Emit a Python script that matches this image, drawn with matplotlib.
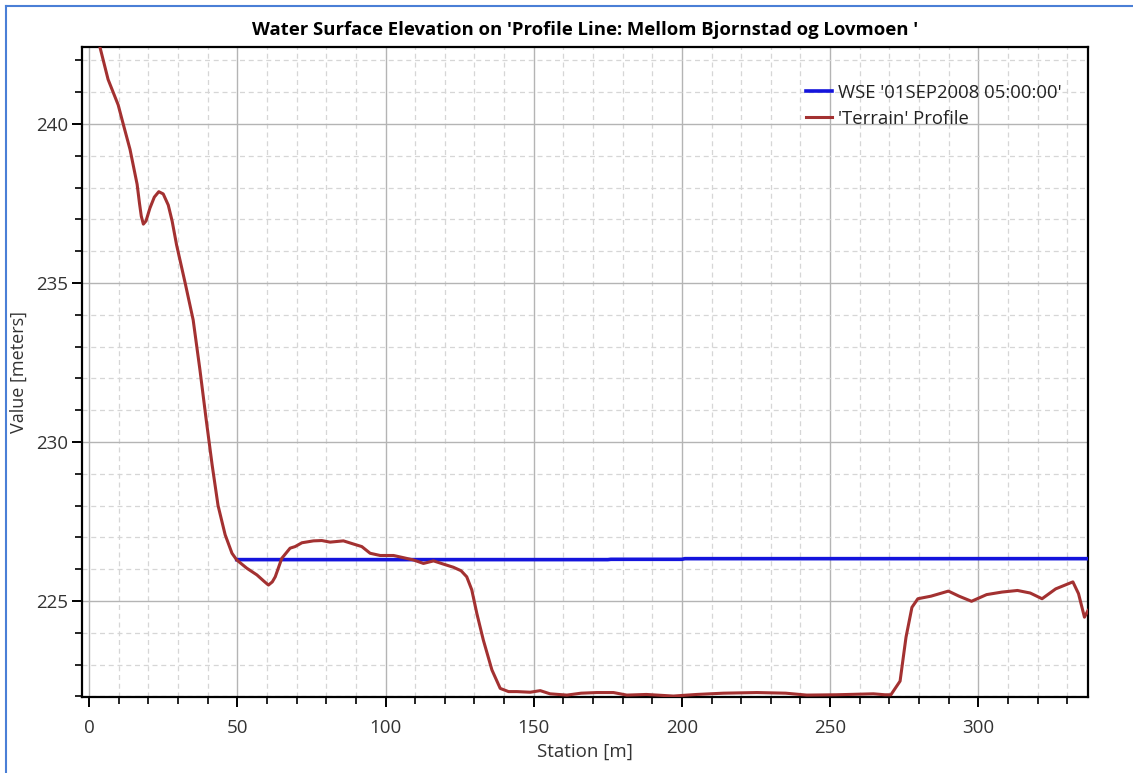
import matplotlib
matplotlib.use("Agg")
import matplotlib.pyplot as plt
from matplotlib.ticker import MultipleLocator
from matplotlib.lines import Line2D

plt.rcParams['font.family'] = ['Open Sans', 'DejaVu Sans']

# Terrain profile (station [m], elevation [m])
terrain_station = [2.5, 3.7, 6.4, 9.8, 11.5, 13.8, 16.2, 17.0, 17.6, 18.3, 19.2, 20.5,
                   22.0, 23.5, 25.0, 26.7, 28.0, 29.5,
                   32.4, 35.1, 37.4, 39.5, 41.5, 43.5, 45.9, 48.2, 49.8, 53.2, 56.6,
                   59.0, 60.5, 61.8, 62.8, 65.0, 67.8, 69.5, 71.8, 75.7, 78.5, 81.3, 85.8, 89.2,
                   92.0, 94.8, 98.2, 102.7, 106.1, 109.4, 112.8, 116.2, 119.5, 122.9,
                   125.5, 127.4, 129.1, 130.8, 133.0, 135.9, 138.7, 141.5, 144.3, 148.8,
                   152.2, 155.5, 161.2, 166.0, 171.3, 176.9, 181.4, 188.0, 197.1,
                   205.0, 214.0, 225.3, 235.0, 242.1, 252.0, 264.6, 268.5, 270.5,
                   273.6, 275.6, 277.6, 279.6, 284.0, 289.9, 293.5, 297.7, 302.8,
                   308.0, 313.2, 317.5, 321.5, 326.1, 331.9, 333.8, 335.8, 337.0]
terrain_elev = [243.0, 242.4, 241.4, 240.6, 240.0, 239.2, 238.1, 237.5, 237.1, 236.85,
                236.95, 237.35, 237.7, 237.87, 237.8, 237.45, 236.95, 236.2,
                235.0, 233.84, 232.26, 230.7, 229.28, 228.0, 227.08,
                226.5, 226.29, 226.03, 225.82, 225.62, 225.5, 225.6, 225.76, 226.34,
                226.66, 226.71, 226.83, 226.89, 226.9, 226.85, 226.89, 226.79, 226.71,
                226.5, 226.43, 226.43, 226.36, 226.29, 226.18, 226.26, 226.16, 226.06,
                225.95, 225.76, 225.35, 224.61, 223.77, 222.83, 222.25, 222.15, 222.15,
                222.13, 222.18, 222.08, 222.04, 222.1, 222.12, 222.12, 222.04, 222.06,
                222.01, 222.06, 222.1, 222.12, 222.1, 222.04, 222.05, 222.08, 222.05,
                222.05, 222.48, 223.86, 224.8, 225.07, 225.15, 225.31, 225.15, 224.99,
                225.2, 225.28, 225.33, 225.25, 225.07, 225.38, 225.6, 225.23, 224.49,
                224.7]

# Water surface elevation
wse_station = [49.8, 175.0, 176.0, 200.0, 201.0, 337.0]
wse_elev = [226.30, 226.30, 226.31, 226.31, 226.33, 226.33]

title = "Water Surface Elevation on 'Profile Line: Mellom Bjornstad og Lovmoen '"
wse_label = "WSE '01SEP2008 05:00:00'"
terrain_label = "'Terrain' Profile"

W, H = 1133, 773
fig = plt.figure(figsize=(W / 100, H / 100), dpi=100)
ax = fig.add_axes([82 / W, 1 - 697 / H, (1088 - 82) / W, (697 - 47) / H])

ax.plot(wse_station, wse_elev, color='#1414dc', lw=2.6, label=wse_label, zorder=3)
ax.plot(terrain_station, terrain_elev, color='#a33131', lw=2.2, label=terrain_label,
        zorder=4, solid_joinstyle='round')

ax.set_xlim(-2.4, 337)
ax.set_ylim(221.98, 242.42)
ax.xaxis.set_major_locator(MultipleLocator(50))
ax.xaxis.set_minor_locator(MultipleLocator(10))
ax.yaxis.set_major_locator(MultipleLocator(5))
ax.yaxis.set_minor_locator(MultipleLocator(1))

ax.grid(which='major', color='#b4b4b4', lw=1.0, ls='-')
ax.grid(which='minor', color='#d6d6d6', lw=0.9, ls=(0, (4, 3)))
ax.set_axisbelow(True)

ax.tick_params(which='major', direction='out', length=7, width=1.4, color='black',
               labelsize=13.5, labelcolor='#333333')
ax.tick_params(axis='x', which='major', pad=9)
ax.tick_params(axis='y', which='major', pad=3)
ax.tick_params(which='minor', direction='out', length=5, width=1.2, color='black')
for s in ax.spines.values():
    s.set_linewidth(1.6)
    s.set_color('black')

ax.set_xlabel('Station [m]', fontsize=13.5, color='#333333', labelpad=4)
ax.set_ylabel('Value [meters]', fontsize=13, color='#333333', labelpad=6)

fig.text((82 + 1088) / 2 / W, 1 - 30 / H, title, ha='center', va='center',
         fontsize=13.3, fontweight='bold', color='black')

handles = [Line2D([], [], color='#1414dc', lw=2.6),
           Line2D([], [], color='#a33131', lw=2.2)]
ax.legend(handles, [wse_label, terrain_label], loc='upper left',
          bbox_to_anchor=(0.712, 0.955), frameon=False, fontsize=13.3,
          handlelength=1.45, handletextpad=0.3, labelspacing=0.45, borderaxespad=0,
          labelcolor='#222222')

# blue window border
fig.add_artist(Line2D([6 / W, 1], [1 - 6 / H, 1 - 6 / H], color='#4a7fd6', lw=1.5))
fig.add_artist(Line2D([6 / W, 6 / W], [0, 1 - 6 / H], color='#4a7fd6', lw=1.5))

fig.savefig('out.png', dpi=100)
